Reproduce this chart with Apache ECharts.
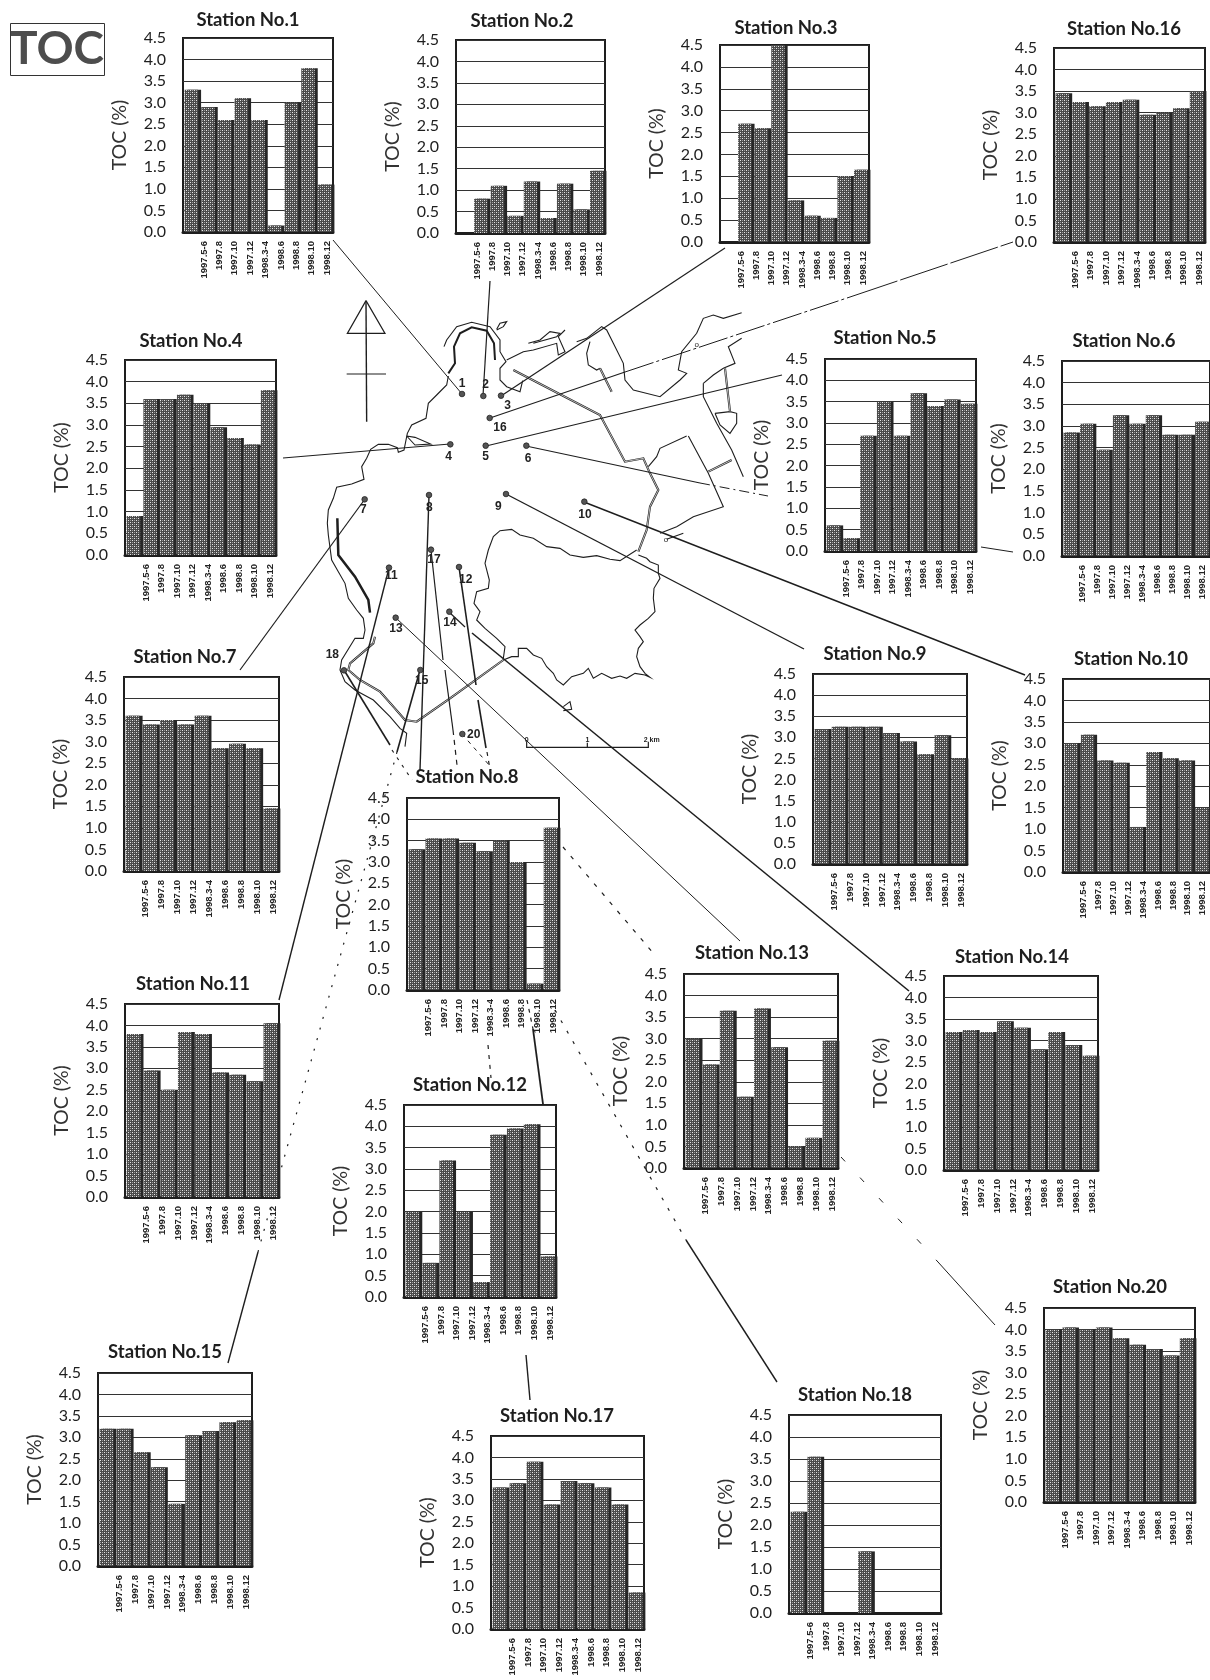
<!DOCTYPE html>
<html>
<head>
<meta charset="utf-8">
<style>html,body{margin:0;padding:0;background:#fff;overflow:hidden}#main{width:1210px;height:1680px}</style>
<script src="https://cdn.jsdelivr.net/npm/echarts@6/dist/echarts.min.js"></script>
</head>
<body>
<div id="main"></div>
<script>
var categories = ['1997.5-6','1997.8','1997.10','1997.12','1998.3-4','1998.6','1998.8','1998.10','1998.12'];
var tickLabels = ['0.0','0.5','1.0','1.5','2.0','2.5','3.0','3.5','4.0','4.5'];

var st1  = [3.3,2.9,2.6,3.1,2.6,0.15,3.0,3.8,1.1];
var st2  = [0,0.8,1.1,0.4,1.2,0.35,1.15,0.55,1.45];
var st3  = [0,2.7,2.6,4.5,0.95,0.6,0.55,1.5,1.65];
var st4  = [0.9,3.6,3.6,3.7,3.5,2.95,2.7,2.55,3.8];
var st5  = [0.6,0.3,2.7,3.5,2.7,3.7,3.4,3.55,3.45];
var st6  = [2.85,3.05,2.45,3.25,3.05,3.25,2.8,2.8,3.1];
var st7  = [3.6,3.4,3.5,3.4,3.6,2.85,2.95,2.85,1.45];
var st8  = [3.3,3.55,3.55,3.45,3.25,3.5,3.0,0.15,3.8];
var st9  = [3.2,3.25,3.25,3.25,3.1,2.9,2.6,3.05,2.5];
var st10 = [3.0,3.2,2.6,2.55,1.05,2.8,2.65,2.6,1.5];
var st11 = [3.8,2.95,2.5,3.85,3.8,2.9,2.85,2.7,4.05];
var st12 = [2.0,0.8,3.2,2.0,0.35,3.8,3.95,4.05,0.95];
var st13 = [3.0,2.4,3.65,1.65,3.7,2.8,0.5,0.7,2.95];
var st14 = [3.2,3.25,3.2,3.45,3.3,2.8,3.2,2.9,2.65];
var st15 = [3.2,3.2,2.65,2.3,1.45,3.05,3.15,3.35,3.4];
var st16 = [3.45,3.25,3.15,3.25,3.3,2.95,3.0,3.1,3.5];
var st17 = [3.3,3.4,3.9,2.9,3.45,3.4,3.3,2.9,0.85];
var st18 = [2.3,3.55,0,0,1.4,0,0,0,0];
var st20 = [4.0,4.05,4.0,4.05,3.8,3.65,3.55,3.4,3.8];

// where each panel sits on the page: station no, values, plot l,t,r,b, title x,y
var panels = [
  [1,st1,183,38,333,232,248,20],
  [2,st2,456,40,605,233,522,21],
  [3,st3,720,45,869,242,786,28],
  [16,st16,1054,48,1205,242,1124,29],
  [4,st4,125,360,276,555,191,341],
  [5,st5,825,359,976,551,885,338],
  [6,st6,1062,361,1212,556,1124,341],
  [7,st7,124,677,279,871,185,657],
  [9,st9,813,674,967,864,875,654],
  [10,st10,1063,679,1213,872,1131,659],
  [8,st8,407,798,559,990,467,777],
  [11,st11,125,1004,279,1197,193,984],
  [13,st13,684,974,838,1168,752,953],
  [14,st14,944,976,1098,1170,1012,957],
  [12,st12,404,1105,556,1297,470,1085],
  [15,st15,98,1373,252,1566,165,1352],
  [17,st17,491,1436,644,1629,557,1416],
  [18,st18,789,1415,941,1613,855,1395],
  [20,st20,1044,1308,1195,1502,1110,1287]
];

// map outline, traced in a 3x space: page x = 300 + x/3, page y = 290 + y/3
var coast = [
  [445,258,440,285,410,315,385,340,378,385,335,405,322,430,312,480,295,487,292,473,265,463,235,463,212,478,200,505,185,530,192,568,155,582,110,592,100,625,85,660,82,700,85,735,95,810,115,845,135,880,145,925,170,960,190,985,195,1020,190,1045,165,1045,125,1110,120,1140,135,1175,165,1200,220,1230,270,1280,300,1315,320,1330,315,1370],
  [320,438,345,465,392,462,345,442,320,438],
  [432,170,440,150,470,110,515,97,570,110,600,150,600,185,618,215,600,235,600,270,620,290,660,305,668,272],
  [590,118,600,100,620,95,610,110,590,120],
  [620,210,670,185,700,180,770,160,775,195,795,185,775,140,795,120],
  [685,160,720,150,750,125,780,130,770,140,700,160],
  [830,155,860,145,905,110,920,120,940,160,970,220,975,270,1000,300,1080,320,1140,270,1160,250,1135,240,1145,185,1190,130,1210,85,1240,75,1270,85,1325,68],
  [870,155,860,190,865,225,890,240,900,235],
  [1160,438,1080,475,1070,500,1045,530],
  [1165,438,1225,550,1270,650,1180,680,1130,710,1080,730],
  [1150,730,1100,748],
  [1210,280,1240,255,1270,235,1305,220,1285,170,1325,145],
  [1210,280,1210,320,1250,400,1295,480,1330,560],
  [1245,370,1290,365,1310,370,1310,400,1290,430,1260,405,1245,370],
  [610,1105,615,1070,590,1045,555,1015,530,990,540,965,522,940,530,905,565,895,568,870,555,820,565,780,580,740,600,722,635,718,660,735,700,745,740,770,780,775,810,795,850,802,890,797,930,808,960,812,1010,780],
  [1015,795,1040,805,1050,815,1075,825,1075,850,1080,865,1062,895,1060,925,1065,965,1045,985,1020,1005,1005,1020,1020,1040,1030,1055,1015,1075,1010,1100,1020,1130,1035,1150,1050,1162,1035,1155,1005,1150,980,1165,960,1158,935,1165,905,1150,880,1165,865,1135,850,1150,815,1160,790,1185,770,1170,760,1150,740,1130,725,1105,700,1095,680,1075,655,1075,655,1100,635,1100,610,1110],
  [790,1250,810,1235,815,1258,790,1262]
];
var bayRoad = [445,250,465,220,462,170,480,130,515,112,560,122,582,160,585,210];
var doubleRoads = [
  [225,1040,220,1060,150,1120,145,1140,180,1170,240,1205,280,1250,315,1290,350,1295,450,1225,610,1110],
  [640,240,900,375,975,515,1030,505,1050,550,1075,600,1050,650,1040,720,1015,785],
  [900,235,935,305],
  [1275,235,1290,365],
  [1225,545,1295,510]
];
var thickRoads = [
  [112,685,115,795,165,860,205,930,210,968]
];
var mapDots = [[486,312],[550,318],[603,317],[569,384],[451,463],[557,467],[679,467],[194,628],[387,615],[618,612],[853,635],[393,779],[267,833],[477,831],[448,965],[287,983],[132,1141],[361,1140],[487,1332]];
var dotNames = ['1','2','3','16','4','5','6','7','8','9','10','17','11','12','14','13','18','15','20'];
var dotNamePos = [[486,280],[557,284],[623,348],[600,414],[446,500],[557,500],[684,505],[190,660],[388,652],[595,650],[855,673],[402,810],[274,858],[497,870],[450,997],[288,1015],[97,1095],[365,1172],[521,1335]];

// leader lines in page pixels: x1,y1,x2,y2,width,dash (0 solid)
var leaders = [
  [462,394,333,240,1,0],
  [483,396,490,281,1.2,0],
  [501,396,725,248,1.2,0],
  [490,418,625,372,1.2,0],
  [625,372,850,297,1,[30,3,3,3]],
  [850,297,1013,242,1,[50,3]],
  [450,444,283,458,1.2,0],
  [486,446,782,375,1.2,0],
  [526,446,700,483,1.2,0],
  [700,483,768,496,1,[10,4,2,4]],
  [981,547,1013,552,1,0],
  [365,499,240,670,1.2,0],
  [429,495,420,770,1.4,0],
  [506,494,804,649,1.4,0],
  [584,502,1025,675,1.4,0],
  [389,568,279,1000,1.4,0],
  [459,567,476,685,1.6,0],
  [478,700,486,748,1.6,0],
  [487,752,491,775,1.2,[4,5]],
  [527,1000,533,1029,1.2,[4,5]],
  [533,1029,543,1104,1.8,0],
  [396,618,740,941,1,0],
  [449,612,465,627,1.2,0],
  [472,633,909,991,1.6,0],
  [420,670,397,752,1.6,0],
  [397,752,258,1252,1.2,[2,9]],
  [258,1252,228,1363,1.4,0],
  [431,550,443,660,1.2,0],
  [445,670,453,730,1.2,0],
  [453,730,457,765,1.2,[5,5]],
  [488,1045,491,1078,1.2,[4,6]],
  [526,1355,530,1400,1.4,0],
  [344,670,390,745,1.6,0],
  [392,750,412,780,1.2,[3,6]],
  [555,1010,686,1240,1.2,[3,9]],
  [686,1240,777,1382,1.4,0],
  [462,734,490,766,1,[4,5]],
  [563,847,654,954,1.2,[4,8]],
  [841,1157,938,1262,1,[6,22]],
  [938,1262,995,1325,1,0]
];

var ink = '#1e1e1e';
var labelFont = 'Lato, "Open Sans", sans-serif';

// stipple fill for the bars
function makeStipple() {
  var c = document.createElement('canvas');
  c.width = 4; c.height = 4;
  var g = c.getContext('2d');
  g.fillStyle = '#4a4a4a';
  g.fillRect(0, 0, 4, 4);
  g.fillStyle = '#e6e6e6';
  g.fillRect(0, 0, 1, 1);
  g.fillRect(2, 2, 1, 1);
  g.fillStyle = '#9a9a9a';
  g.fillRect(2, 0, 1, 1);
  g.fillRect(0, 2, 1, 1);
  return c;
}
var stipple = { image: makeStipple(), repeat: 'repeat' };

function mapPoints(flat) {
  var pts = [];
  for (var i = 0; i < flat.length; i += 2) {
    pts.push([300 + flat[i] / 3, 290 + flat[i + 1] / 3]);
  }
  return pts;
}
function polyline(flat, width, color) {
  return { type: 'polyline', silent: true, shape: { points: mapPoints(flat) },
    style: { stroke: color || ink, lineWidth: width, fill: null } };
}

var titles = [], grids = [], xAxes = [], yAxes = [], seriesList = [], graphics = [];

panels.forEach(function (p) {
  var l = p[2], t = p[3], w = p[4] - p[2], h = p[5] - p[3];
  var g = grids.length;
  titles.push({
    text: 'Station No.' + p[0], left: p[6], top: p[7] - 9, textAlign: 'center', padding: 0,
    textStyle: { fontFamily: labelFont, fontSize: 18.5, fontWeight: 'bold', color: ink }
  });
  grids.push({ left: l, top: t, width: w, height: h, show: true, backgroundColor: 'transparent', borderColor: ink, borderWidth: 2, containLabel: false });
  xAxes.push({ gridIndex: g, type: 'category', data: categories,
    axisLine: { show: true, lineStyle: { color: ink, width: 3 } }, axisTick: { show: false }, axisLabel: { show: false } });
  yAxes.push({ gridIndex: g, type: 'value', min: 0, max: 4.5, interval: 0.5,
    name: 'TOC (%)', nameLocation: 'middle', nameGap: 53, nameRotate: 90,
    nameTextStyle: { fontFamily: labelFont, fontSize: 19.5, color: '#333' },
    axisLine: { show: false }, axisTick: { show: false },
    axisLabel: { margin: 17, fontFamily: labelFont, fontSize: 16, color: ink,
      formatter: function (v) { return tickLabels[Math.round(v * 2)]; } },
    splitLine: { show: true, lineStyle: { color: '#333', width: 1.2 } } });
  seriesList.push({ type: 'bar', xAxisIndex: g, yAxisIndex: g, data: p[1], barCategoryGap: '19%',
    animation: false, silent: true,
    itemStyle: { color: stipple, shadowColor: '#262626', shadowOffsetX: 3, shadowOffsetY: 0, shadowBlur: 0 } });

  // month labels sit on their own narrower strip, shifted right of the bars
  grids.push({ left: l + w * 0.089, top: t + h, width: w * 0.923, height: 1, show: false });
  xAxes.push({ gridIndex: g + 1, type: 'category', data: categories,
    axisLine: { show: false }, axisTick: { show: false },
    axisLabel: { interval: 0, rotate: 90, margin: 8, fontFamily: '"Liberation Sans", Arial, sans-serif', fontSize: 9.5, fontWeight: 'bold', color: '#222' } });
  yAxes.push({ gridIndex: g + 1, type: 'value', min: 0, max: 1, show: false });
});

// big label box, top left
graphics.push({ type: 'rect', silent: true, shape: { x: 10.5, y: 23.5, width: 94, height: 52 },
  style: { stroke: '#333', lineWidth: 1, fill: null } });
graphics.push({ type: 'text', silent: true, x: 57, y: 49,
  style: { text: 'TOC', fontFamily: 'Lato, sans-serif', fontSize: 46, fontWeight: 'bold', fill: '#4d4d4d', align: 'center', verticalAlign: 'middle' } });

// north arrow
graphics.push(polyline([198,32,142,130,255,130,198,32], 1.2));
graphics.push(polyline([198,32,200,395], 1.4));
graphics.push(polyline([140,252,258,252], 1.2));

// scale bar
graphics.push(polyline([680,1355,680,1372,1045,1372,1045,1355], 1.2));
graphics.push(polyline([862,1358,862,1372], 1.2));
[['0',680],['1',862],['2 km',1055]].forEach(function (s) {
  graphics.push({ type: 'text', silent: true, x: 300 + s[1] / 3, y: 290 + 1350 / 3,
    style: { text: s[0], fontFamily: '"Liberation Sans", sans-serif', fontSize: 7, fontWeight: 'bold', fill: ink, align: 'center', verticalAlign: 'middle' } });
});

coast.forEach(function (c) { graphics.push(polyline(c, 1.1)); });
thickRoads.forEach(function (c) { graphics.push(polyline(c, 2.5)); });
graphics.push(polyline(bayRoad, 2));
doubleRoads.forEach(function (c) {
  graphics.push(polyline(c, 2.1));
  graphics.push(polyline(c, 0.7, '#fff'));
});
[[1190,163],[1098,748]].forEach(function (o) {
  graphics.push({ type: 'text', silent: true, x: 300 + o[0] / 3, y: 290 + o[1] / 3,
    style: { text: 'o', fontFamily: '"Liberation Sans", sans-serif', fontSize: 8, fill: ink, align: 'center', verticalAlign: 'middle' } });
});

leaders.forEach(function (s) {
  graphics.push({ type: 'line', silent: true, shape: { x1: s[0], y1: s[1], x2: s[2], y2: s[3] },
    style: { stroke: ink, lineWidth: s[4], lineDash: s[5] || null } });
});

mapDots.forEach(function (d, i) {
  graphics.push({ type: 'circle', silent: true, shape: { cx: 300 + d[0] / 3, cy: 290 + d[1] / 3, r: 2.8 },
    style: { fill: '#555', stroke: '#222', lineWidth: 0.8 } });
  graphics.push({ type: 'text', silent: true, x: 300 + dotNamePos[i][0] / 3, y: 290 + dotNamePos[i][1] / 3,
    style: { text: dotNames[i], fontFamily: '"Liberation Sans", Arial, sans-serif', fontSize: 12, fontWeight: 'bold', fill: '#222', align: 'center', verticalAlign: 'middle' } });
});

var chart = echarts.init(document.getElementById('main'), null, { renderer: 'canvas' });
chart.setOption({
  animation: false,
  backgroundColor: '#fff',
  title: titles,
  grid: grids,
  xAxis: xAxes,
  yAxis: yAxes,
  series: seriesList,
  graphic: { elements: graphics }
});
</script>
</body>
</html>
